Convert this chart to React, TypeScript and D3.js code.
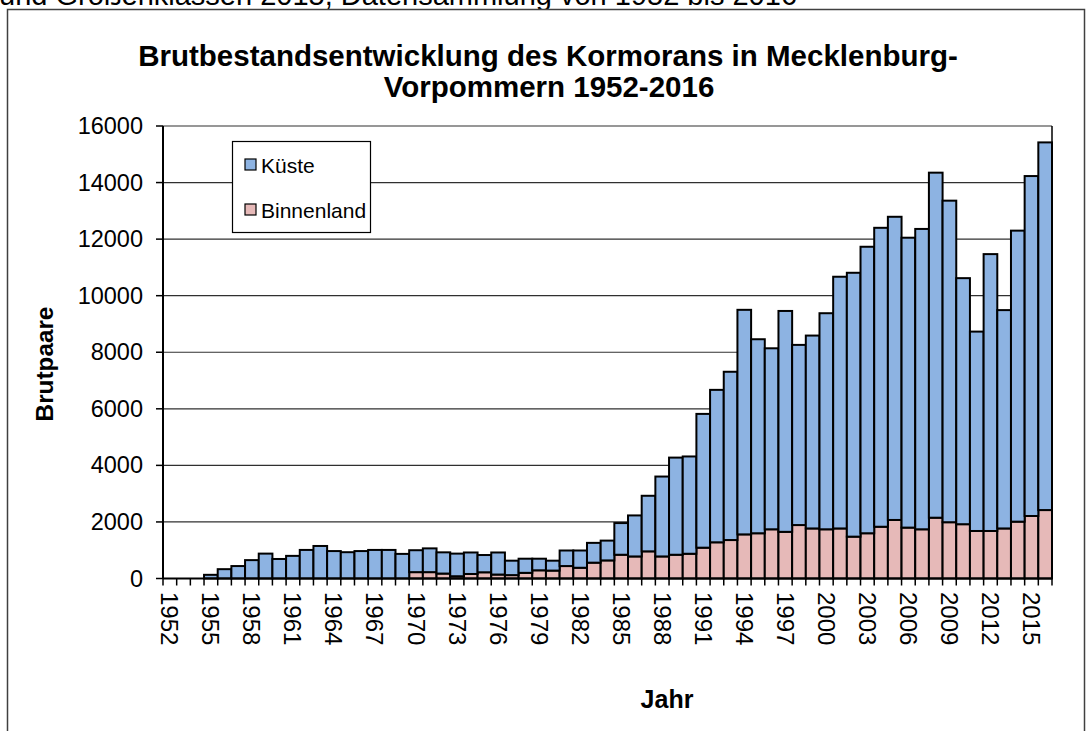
import * as d3 from "d3";

const years = d3.range(1952, 2017);

// Gesamtbestand (Küste + Binnenland)
const total = [
  0, 0, 0, 130, 330, 440, 650, 880, 690, 800,
  1010, 1150, 970, 930, 970, 1010, 1010, 870, 1000, 1065,
  925, 880, 920, 830, 920, 630, 700, 700, 630, 990,
  990, 1260, 1340, 1960, 2230, 2925, 3605, 4275, 4315, 5820,
  6670, 7310, 9500, 8460, 8140, 9460, 8260, 8590, 9380, 10670,
  10810, 11730, 12400, 12790, 12050, 12360, 14350, 13360, 10620, 8730,
  11470, 9490, 12300, 14230, 15420,
];

const binnenland = [
  0, 0, 0, 0, 0, 0, 0, 0, 0, 0,
  0, 0, 0, 0, 0, 0, 0, 0, 225, 225,
  175, 80, 160, 220, 140, 120, 200, 290, 280, 440,
  380, 560, 640, 840, 780, 960, 780, 840, 875, 1090,
  1280, 1360, 1560, 1600, 1740, 1650, 1890, 1770, 1740, 1770,
  1480, 1600, 1830, 2070, 1800, 1740, 2150, 1990, 1920, 1680,
  1680, 1770, 2010, 2210, 2420,
];

const kueste = total.map((t, i) => t - binnenland[i]);

const yTicks = [0, 2000, 4000, 6000, 8000, 10000, 12000, 14000, 16000];

const seriesNames = ["Binnenland", "Küste"];
const seriesColors = { Binnenland: "#E6B9B8", Küste: "#8DB3E2" };

export default function App() {
  const left = 163;
  const right = 1052;
  const top = 126;
  const bottom = 578.5;

  const x = d3.scaleBand<number>().domain(years).range([left, right]).padding(0);
  const y = d3.scaleLinear().domain([0, 16000]).range([bottom, top]);

  const rows = years.map((yr, i) => ({
    year: yr,
    Binnenland: binnenland[i],
    Küste: kueste[i],
  }));
  const stacked = d3.stack<any>().keys(seriesNames)(rows);

  const font = "Arial, 'Liberation Sans', sans-serif";

  return (
    <svg
      width={1088}
      height={731}
      style={{ position: "absolute", left: 0, top: 0, background: "#fff" }}
      fontFamily={font}
    >
      {/* abgeschnittene Zeile darüber */}
      <text x={-1} y={5} fontSize={29} fill="#000">
        und Größenklassen 2015, Datensammlung von 1952 bis 2016
      </text>
      {/* Rahmen */}
      <rect x={7.5} y={9.5} width={1077} height={740} fill="#fff" stroke="#404040" strokeWidth={1.5} />

      {/* Titel */}
      <text x={548} y={66} textAnchor="middle" fontSize={29.5} fontWeight="bold">
        Brutbestandsentwicklung des Kormorans in Mecklenburg-
      </text>
      <text x={549} y={97} textAnchor="middle" fontSize={29.5} fontWeight="bold">
        Vorpommern 1952-2016
      </text>

      {/* Gitter */}
      {yTicks.map((t) => (
        <line key={t} x1={left} x2={right} y1={y(t)} y2={y(t)} stroke="#303030" strokeWidth={1.2} />
      ))}
      <line x1={right} x2={right} y1={top} y2={bottom} stroke="#000" strokeWidth={1.5} />

      {/* Balken */}
      {stacked.map((s) => (
        <g key={s.key}>
          {s.map((d, i) => {
            if (d[1] - d[0] <= 0) return null;
            return (
              <rect
                key={i}
                x={x(years[i])}
                width={x.bandwidth()}
                y={y(d[1])}
                height={y(d[0]) - y(d[1])}
                fill={(seriesColors as any)[s.key]}
                stroke="#000"
                strokeWidth={2}
              />
            );
          })}
        </g>
      ))}

      {/* Achsen */}
      <line x1={left} x2={left} y1={top} y2={bottom} stroke="#000" strokeWidth={2} />
      <line x1={left} x2={right} y1={bottom} y2={bottom} stroke="#000" strokeWidth={2} />
      {yTicks.map((t) => (
        <g key={t}>
          <line x1={left - 7} x2={left} y1={y(t)} y2={y(t)} stroke="#000" strokeWidth={1.5} />
          <text x={143} y={y(t)} textAnchor="end" dominantBaseline="central" fontSize={23.5}>
            {t}
          </text>
        </g>
      ))}
      {years.concat([2017]).map((yr, i) => (
        <line
          key={yr}
          x1={left + i * x.step()}
          x2={left + i * x.step()}
          y1={bottom}
          y2={bottom + 7}
          stroke="#000"
          strokeWidth={1.5}
        />
      ))}
      {years
        .filter((yr) => (yr - 1952) % 3 === 0)
        .map((yr) => {
          const cx = (x(yr) as number) + x.bandwidth() / 2;
          return (
            <text
              key={yr}
              transform={`translate(${cx},${592}) rotate(90)`}
              dominantBaseline="central"
              fontSize={24}
            >
              {yr}
            </text>
          );
        })}

      {/* Achsentitel */}
      <text
        transform="translate(44,364) rotate(-90)"
        textAnchor="middle"
        dominantBaseline="central"
        fontSize={24.3}
        fontWeight="bold"
      >
        Brutpaare
      </text>
      <text x={667} y={708} textAnchor="middle" fontSize={25} fontWeight="bold">
        Jahr
      </text>

      {/* Legende */}
      <rect x={232.5} y={141.5} width={138} height={91} fill="#fff" stroke="#000" strokeWidth={1.2} />
      {["Küste", "Binnenland"].map((k, i) => (
        <g key={k} transform={`translate(245,${165 + i * 45})`}>
          <rect x={0} y={-6} width={11} height={11} fill={(seriesColors as any)[k]} stroke="#000" strokeWidth={1.2} />
          <text x={16} y={0} dominantBaseline="central" fontSize={21}>
            {k}
          </text>
        </g>
      ))}
    </svg>
  );
}
